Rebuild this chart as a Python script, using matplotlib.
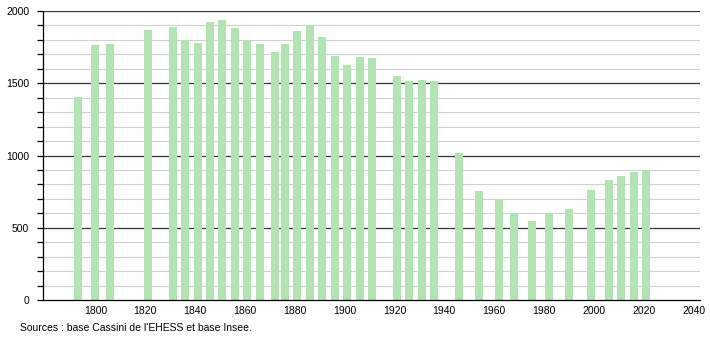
import matplotlib.pyplot as plt
import numpy as np

# population data --------------------------------------------------------------
years = [1793, 1800, 1806, 1821, 1831, 1836, 1841, 1846, 1851, 1856,
         1861, 1866, 1872, 1876, 1881, 1886, 1891, 1896, 1901, 1906,
         1911, 1921, 1926, 1931, 1936, 1946, 1954, 1962, 1968, 1975,
         1982, 1990, 1999, 2006, 2011, 2016, 2021]
population = [1403, 1765, 1774, 1868, 1887, 1801, 1776, 1924, 1938, 1882,
              1799, 1772, 1714, 1772, 1859, 1900, 1820, 1689, 1626, 1682,
              1672, 1550, 1516, 1522, 1516, 1017, 752, 692, 600, 547,
              600, 630, 761, 830, 860, 884, 897]
x_ticks = [1800, 1820, 1840, 1860, 1880, 1900, 1920, 1940, 1960, 1980, 2000, 2020, 2040]
y_ticks = [0, 500, 1000, 1500, 2000]

plt.rcParams['font.family'] = ['Liberation Sans', 'DejaVu Sans']

fig = plt.figure(figsize=(7.1, 3.4), dpi=100)
ax = fig.add_axes([43/710, 40/340, 657/710, 289/340])

# grid lines
for v in range(100, 2000, 100):
    if v % 500 == 0:
        ax.axhline(v, color='#333333', lw=0.9, zorder=1)
    else:
        ax.axhline(v, color='#d0d0d0', lw=0.8, zorder=1)
ax.axhline(2000, color='#333333', lw=0.9, zorder=1)

ax.bar(years, population, width=3.2, color='#b3e3b3', zorder=2)

ax.set_xlim(1779.0, 2042.6)
ax.set_ylim(0, 2000)
ax.set_xticks(x_ticks)
ax.set_yticks(y_ticks)
ax.set_yticks(range(0, 2001, 100), minor=True)
ax.tick_params(axis='x', length=0, labelsize=7.5, pad=4)
ax.tick_params(axis='y', which='both', length=4, width=0.9, labelsize=7.5, pad=6)

for s in ['top', 'right']:
    ax.spines[s].set_visible(False)
ax.spines['left'].set_linewidth(0.9)
ax.spines['bottom'].set_linewidth(0.9)

fig.text(20/710, 1 - 328/340, "Sources : base Cassini de l'EHESS et base Insee.",
         fontsize=7.5, va='center', ha='left')

plt.savefig('out.png', dpi=100)
